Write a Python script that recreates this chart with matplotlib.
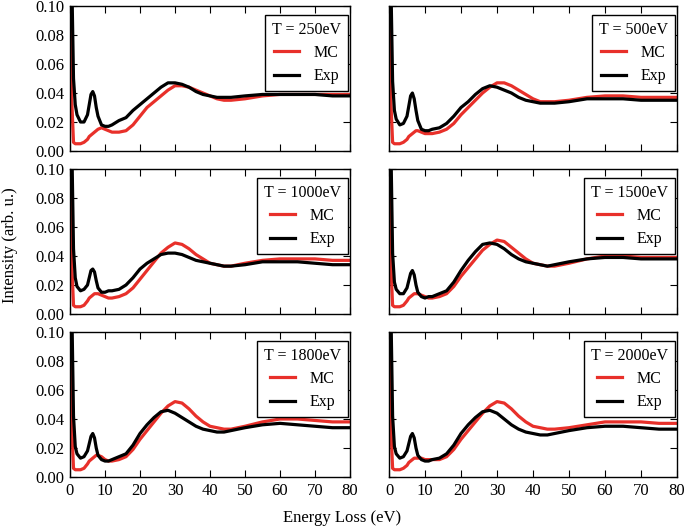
import matplotlib
matplotlib.use("Agg")
import matplotlib.pyplot as plt

energy = [0, 0.5, 1, 1.5, 2, 3, 4, 5, 5.5, 6, 6.5, 7, 7.5, 8, 9, 10, 11, 12, 14, 16, 18, 20,
          22, 24, 26, 28, 30, 32, 34, 36, 38, 40, 42, 44, 46, 50, 55, 60, 65, 70, 75, 80]

energies_label = ["250", "500", "1000", "1500", "1800", "2000"]

mc_250 = [0.10, 0.035, 0.006, 0.005, 0.005, 0.005, 0.006, 0.008, 0.010, 0.011, 0.012, 0.013, 0.014, 0.015,
          0.016, 0.015, 0.014, 0.013, 0.013, 0.014, 0.018, 0.024, 0.030, 0.034, 0.038, 0.042, 0.045, 0.045,
          0.044, 0.042, 0.040, 0.038, 0.036, 0.035, 0.035, 0.036, 0.038, 0.039, 0.039, 0.039, 0.039, 0.039]
exp_250 = [0.12, 0.12, 0.050, 0.032, 0.025, 0.020, 0.020, 0.025, 0.032, 0.039, 0.041, 0.038, 0.030, 0.024,
           0.018, 0.017, 0.017, 0.018, 0.021, 0.023, 0.028, 0.032, 0.036, 0.040, 0.044, 0.047, 0.047, 0.046,
           0.044, 0.041, 0.039, 0.038, 0.037, 0.037, 0.037, 0.038, 0.039, 0.039, 0.039, 0.039, 0.038, 0.038]

mc_500 = [0.10, 0.035, 0.006, 0.005, 0.005, 0.005, 0.006, 0.008, 0.010, 0.011, 0.012, 0.013, 0.014, 0.014,
          0.013, 0.012, 0.012, 0.012, 0.013, 0.015, 0.019, 0.025, 0.030, 0.035, 0.040, 0.044, 0.047, 0.047,
          0.045, 0.042, 0.039, 0.036, 0.034, 0.034, 0.034, 0.035, 0.037, 0.038, 0.038, 0.037, 0.037, 0.037]
exp_500 = [0.12, 0.12, 0.048, 0.028, 0.022, 0.018, 0.019, 0.024, 0.031, 0.038, 0.040, 0.036, 0.028, 0.021,
           0.015, 0.014, 0.014, 0.015, 0.016, 0.019, 0.024, 0.030, 0.034, 0.039, 0.043, 0.045, 0.044, 0.042,
           0.040, 0.037, 0.035, 0.034, 0.033, 0.033, 0.033, 0.034, 0.036, 0.036, 0.036, 0.035, 0.035, 0.035]

mc_1000 = [0.10, 0.035, 0.006, 0.005, 0.005, 0.005, 0.006, 0.009, 0.011, 0.012, 0.013, 0.014, 0.014, 0.014,
           0.013, 0.012, 0.011, 0.011, 0.012, 0.014, 0.018, 0.024, 0.030, 0.036, 0.042, 0.046, 0.049, 0.048,
           0.045, 0.041, 0.038, 0.035, 0.034, 0.033, 0.033, 0.035, 0.037, 0.038, 0.038, 0.038, 0.037, 0.037]
exp_1000 = [0.12, 0.12, 0.045, 0.025, 0.019, 0.016, 0.017, 0.020, 0.025, 0.030, 0.031, 0.029, 0.023, 0.018,
            0.015, 0.015, 0.016, 0.016, 0.017, 0.020, 0.025, 0.031, 0.035, 0.038, 0.041, 0.042, 0.042, 0.041,
            0.039, 0.037, 0.036, 0.035, 0.034, 0.033, 0.033, 0.034, 0.036, 0.036, 0.036, 0.035, 0.034, 0.034]

mc_1500 = [0.10, 0.035, 0.006, 0.005, 0.005, 0.005, 0.006, 0.009, 0.011, 0.012, 0.013, 0.014, 0.014, 0.014,
           0.013, 0.012, 0.011, 0.011, 0.012, 0.014, 0.019, 0.026, 0.032, 0.038, 0.044, 0.048, 0.051, 0.050,
           0.046, 0.042, 0.038, 0.035, 0.034, 0.033, 0.033, 0.035, 0.038, 0.040, 0.040, 0.039, 0.039, 0.039]
exp_1500 = [0.12, 0.12, 0.042, 0.022, 0.017, 0.014, 0.014, 0.018, 0.023, 0.028, 0.030, 0.027, 0.020, 0.015,
            0.012, 0.011, 0.012, 0.012, 0.014, 0.016, 0.022, 0.030, 0.037, 0.043, 0.048, 0.049, 0.048, 0.045,
            0.041, 0.038, 0.036, 0.035, 0.034, 0.033, 0.034, 0.036, 0.038, 0.039, 0.039, 0.038, 0.038, 0.038]

mc_1800 = [0.10, 0.035, 0.006, 0.005, 0.005, 0.005, 0.006, 0.009, 0.011, 0.012, 0.013, 0.014, 0.015, 0.015,
           0.014, 0.012, 0.011, 0.011, 0.012, 0.014, 0.019, 0.026, 0.032, 0.038, 0.044, 0.049, 0.052, 0.051,
           0.047, 0.042, 0.038, 0.035, 0.034, 0.033, 0.033, 0.035, 0.038, 0.040, 0.040, 0.039, 0.038, 0.038]
exp_1800 = [0.12, 0.12, 0.042, 0.021, 0.016, 0.013, 0.014, 0.018, 0.023, 0.028, 0.030, 0.027, 0.020, 0.015,
            0.012, 0.011, 0.011, 0.012, 0.014, 0.016, 0.022, 0.030, 0.036, 0.041, 0.045, 0.046, 0.044, 0.041,
            0.038, 0.035, 0.033, 0.032, 0.031, 0.031, 0.032, 0.034, 0.036, 0.037, 0.036, 0.035, 0.034, 0.034]

mc_2000 = [0.10, 0.035, 0.006, 0.005, 0.005, 0.005, 0.006, 0.008, 0.010, 0.011, 0.012, 0.013, 0.013, 0.013,
           0.013, 0.012, 0.012, 0.012, 0.012, 0.014, 0.019, 0.026, 0.032, 0.038, 0.044, 0.049, 0.052, 0.051,
           0.047, 0.042, 0.038, 0.035, 0.034, 0.033, 0.033, 0.034, 0.036, 0.038, 0.038, 0.038, 0.037, 0.037]
exp_2000 = [0.12, 0.12, 0.042, 0.021, 0.016, 0.013, 0.014, 0.018, 0.023, 0.028, 0.030, 0.027, 0.020, 0.015,
            0.012, 0.011, 0.011, 0.012, 0.013, 0.016, 0.022, 0.030, 0.036, 0.041, 0.045, 0.046, 0.044, 0.040,
            0.036, 0.033, 0.031, 0.030, 0.029, 0.029, 0.030, 0.032, 0.034, 0.035, 0.035, 0.034, 0.033, 0.033]

mc_all = [mc_250, mc_500, mc_1000, mc_1500, mc_1800, mc_2000]
exp_all = [exp_250, exp_500, exp_1000, exp_1500, exp_1800, exp_2000]

xticks = [0, 10, 20, 30, 40, 50, 60, 70, 80]
yticks = [0.00, 0.02, 0.04, 0.06, 0.08, 0.10]

plt.rcParams["font.family"] = ["Liberation Serif", "DejaVu Serif"]
plt.rcParams["font.size"] = 12

fig = plt.figure(figsize=(6.85, 5.29), dpi=100)

W, H = 685.0, 529.0
col_x = [(70, 350), (389, 677)]
row_y = [(6, 151), (169, 314), (332, 477)]

for idx in range(6):
    row, col = divmod(idx, 2)
    x0, x1 = col_x[col]
    y0, y1 = row_y[row]
    ax = fig.add_axes([x0 / W, 1 - y1 / H, (x1 - x0) / W, (y1 - y0) / H])

    ax.plot(energy, mc_all[idx], color="#e8302a", lw=2.3, label="MC")
    ax.plot(energy, exp_all[idx], color="black", lw=2.3, label="Exp")

    ax.set_xlim(0, 80)
    ax.set_ylim(0, 0.10)
    ax.set_xticks(xticks)
    ax.set_yticks(yticks)
    ax.tick_params(direction="in", top=True, right=True, length=5, width=0.8, labelsize=12, pad=4)
    for sp in ax.spines.values():
        sp.set_linewidth(1.0)

    if row < 2:
        ax.set_xticklabels([])
    if col == 1:
        ax.set_yticklabels([])
    else:
        ax.set_yticklabels(["%.2f" % v for v in yticks])

    leg = ax.legend(title="T = %seV" % energies_label[idx], loc="upper right",
                    bbox_to_anchor=(0.994, 0.94), borderaxespad=0,
                    fancybox=False, framealpha=1, edgecolor="black",
                    fontsize=11.5, title_fontsize=11.5, handlelength=1.6,
                    handletextpad=0.9, borderpad=0.45, labelspacing=0.45)
    leg.get_frame().set_linewidth(1.0)

fig.text(0.5, 1 - 518 / H, "Energy Loss (eV)", ha="center", va="center", fontsize=12)
fig.text(10 / W, 1 - 245 / H, "Intensity (arb. u.)", ha="center", va="center",
         rotation=90, fontsize=12)

fig.savefig("out.png", dpi=100)
